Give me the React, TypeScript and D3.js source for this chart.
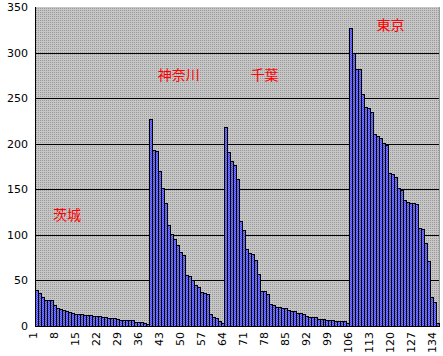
import React from "react";
import * as d3 from "d3";

const ibaraki = [39, 36, 32, 29, 28, 28, 23, 20, 19, 18, 16.5, 15, 14, 13.2, 13, 12.8, 12.5, 12, 11.7, 11.5, 11, 10.8, 10.3, 10, 9, 8.8, 8.6, 7.7, 6.8, 6.7, 6.6, 6.5, 6.4, 4.8, 4.2, 4, 3.8, 2.5];
const kanagawa = [227, 193, 192, 170, 151, 135, 111, 101, 95, 89, 81, 78, 56, 55, 50, 45, 42.5, 37.7, 36.6, 35.2, 13.2, 9.5, 8.8, 5.5, 3.7];
const chiba = [218, 191, 181, 177, 161, 115, 105, 85, 80, 79, 72, 57, 38, 38, 35, 24, 22.7, 20.5, 20.5, 19.4, 19.4, 17.6, 16.1, 16.1, 13.9, 13.9, 12.8, 11.4, 10.3, 9.5, 9.5, 7.3, 7.3, 7.3, 6.2, 6.2, 6.2, 5.1, 5.1, 5.1, 5.1, 3];
const tokyo = [327, 300, 282, 282, 255, 240, 239, 235, 211, 208, 206, 201, 199, 168, 167, 163, 151, 149, 138, 136, 135, 135, 134, 107, 106, 91, 71, 32, 26, 3];

const yTicks = [0, 50, 100, 150, 200, 250, 300, 350];
const xTickLabels = [1, 8, 15, 22, 29, 36, 43, 50, 57, 64, 71, 78, 85, 92, 99, 106, 113, 120, 127, 134];

const regionLabels = [
  { text: "茨城", index: 7, value: 121 },
  { text: "神奈川", index: 42, value: 274 },
  { text: "千葉", index: 73, value: 274 },
  { text: "東京", index: 115, value: 329 },
];

const values = [...ibaraki, ...kanagawa, ...chiba, ...tokyo];
const indices = values.map((_, i) => i + 1);

export default function App() {
  const W = 443, H = 356;
  const left = 35, right = 439.3, top = 7, bottom = 326;
  const x = d3.scaleBand<number>().domain(indices).range([left, right]).padding(0);
  const y = d3.scaleLinear().domain([0, 350]).range([bottom, top]);
  const bw = x.bandwidth();

  return (
    <svg width={W} height={H} style={{ position: "absolute", left: 0, top: 0, background: "#fff" }}>
      <defs>
        <pattern id="bg" width="2" height="2" patternUnits="userSpaceOnUse">
          <rect width="2" height="2" fill="#c6c6c6" />
          <rect width="1" height="1" fill="#9a9a9a" />
        </pattern>
        <pattern id="barfill" width="2" height="2" patternUnits="userSpaceOnUse">
          <rect width="2" height="2" fill="#7c7cff" />
          <rect width="1" height="1" fill="#4a4ae6" />
          <rect x="1" y="1" width="1" height="1" fill="#4a4ae6" />
        </pattern>
      </defs>
      <rect x={left} y={top} width={right - left} height={bottom - top} fill="url(#bg)" />
      <line x1={right} x2={right} y1={top} y2={bottom} stroke="#9a9a9a" shapeRendering="crispEdges" />
      {yTicks.filter((t) => t > 0 && t < 350).map((t) => (
        <line key={t} x1={left} x2={right} y1={Math.round(y(t)) + 0.5} y2={Math.round(y(t)) + 0.5} stroke="#000" strokeWidth={1} shapeRendering="crispEdges" />
      ))}
      {values.map((v, i) => {
        const x0 = Math.round(x(i + 1)!);
        const x1 = Math.round(x(i + 1)! + bw);
        const yt = Math.round(y(v));
        return (
          <rect key={i} x={x0 + 0.5} y={yt + 0.5} width={x1 - x0} height={bottom - yt} fill="url(#barfill)" stroke="#000" strokeWidth={1} shapeRendering="crispEdges" />
        );
      })}
      <line x1={left + 0.5} x2={left + 0.5} y1={top} y2={bottom + 1} stroke="#000" shapeRendering="crispEdges" />
      <line x1={left} x2={right} y1={bottom + 0.5} y2={bottom + 0.5} stroke="#000" shapeRendering="crispEdges" />
      {yTicks.map((t) => (
        <text key={t} x={28} y={y(t) + 4} textAnchor="end" fontFamily="DejaVu Sans, sans-serif" fontSize={11} fill="#000">{t}</text>
      ))}
      {xTickLabels.map((t) => {
        const cx = x(t)! + bw / 2 + 1;
        return (
          <text key={t} transform={`translate(${cx},${332}) rotate(-90)`} textAnchor="end" fontFamily="DejaVu Sans, sans-serif" fontSize={11} fill="#000">{t}</text>
        );
      })}
      {regionLabels.map((r) => (
        <text key={r.text} x={x(r.index)!} y={y(r.value)} fontFamily="'Noto Sans CJK JP', sans-serif" fontSize={14} fill="#ff0000" dominantBaseline="middle">{r.text}</text>
      ))}
    </svg>
  );
}
